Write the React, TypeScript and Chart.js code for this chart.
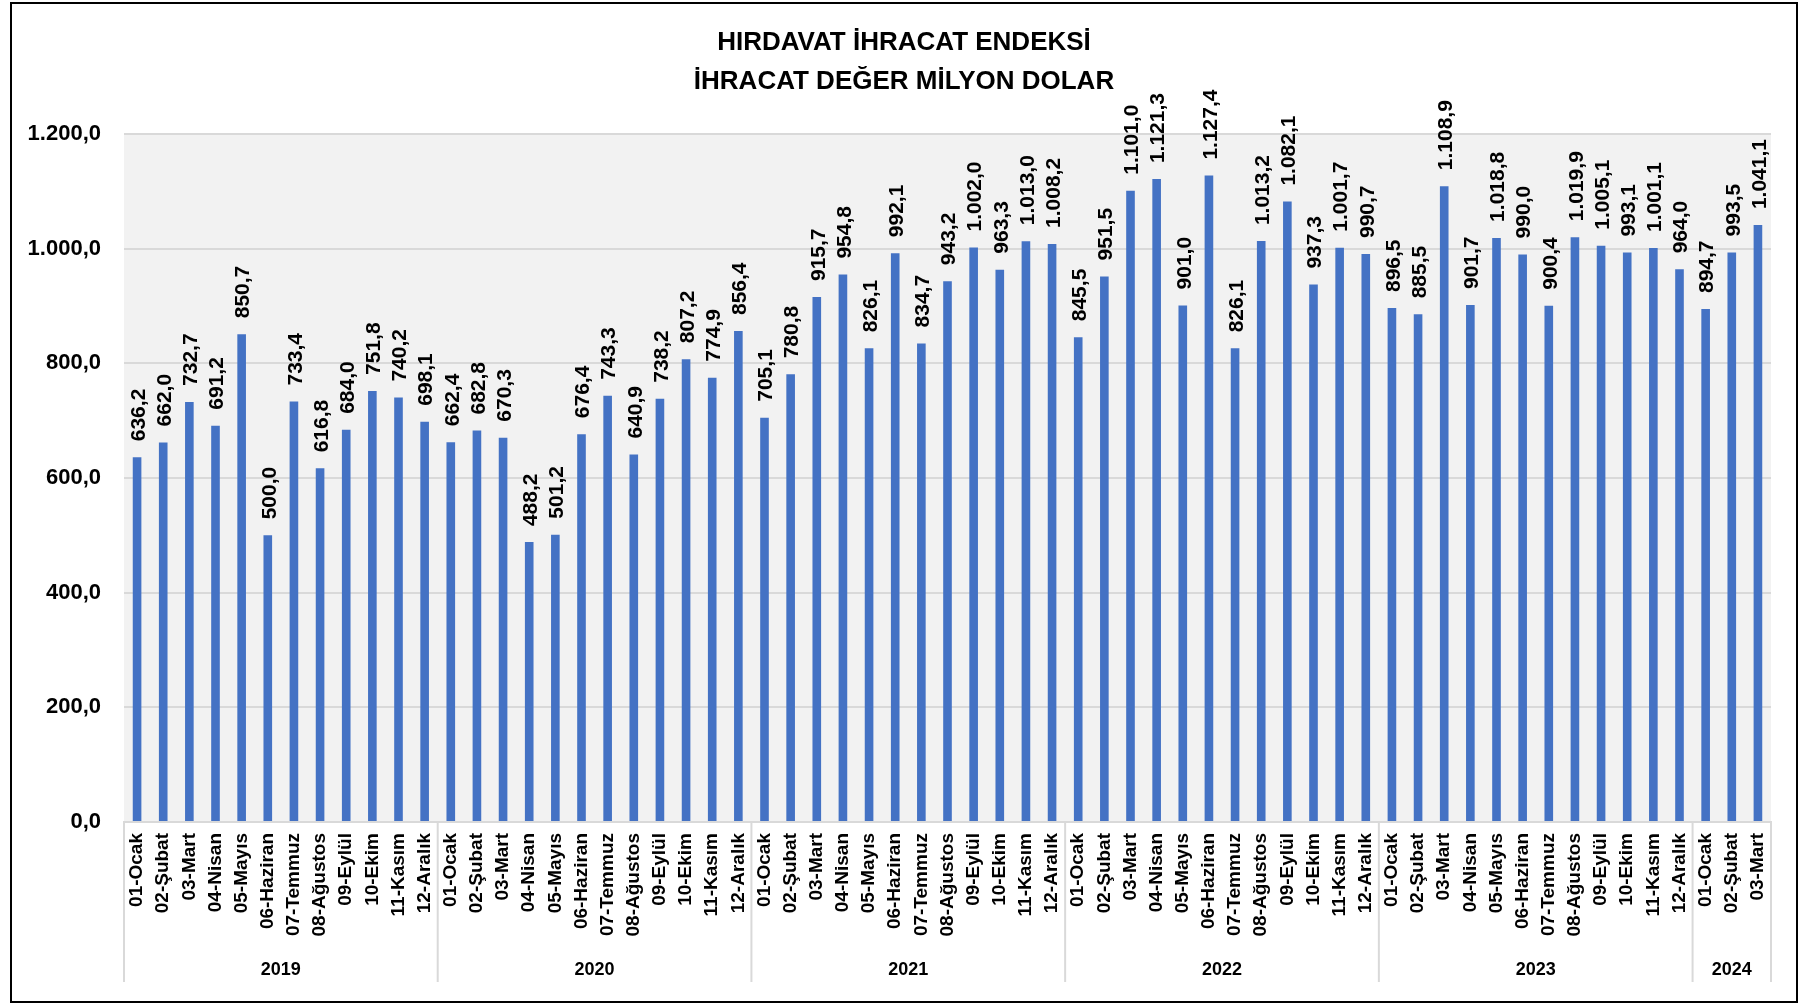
import React, { useEffect, useRef } from 'react';
import { Chart, registerables } from 'chart.js';

Chart.register(...registerables);

const titleLines = ['HIRDAVAT İHRACAT ENDEKSİ', 'İHRACAT DEĞER MİLYON DOLAR'];
const years = ['2019', '2020', '2021', '2022', '2023', '2024'];
const monthsPerYear = [12, 12, 12, 12, 12, 3];
const monthNames = ['01-Ocak', '02-Şubat', '03-Mart', '04-Nisan', '05-Mayıs', '06-Haziran', '07-Temmuz', '08-Ağustos', '09-Eylül', '10-Ekim', '11-Kasım', '12-Aralık'];

const values2019 = [636.2, 662.0, 732.7, 691.2, 850.7, 500.0, 733.4, 616.8, 684.0, 751.8, 740.2, 698.1];
const values2020 = [662.4, 682.8, 670.3, 488.2, 501.2, 676.4, 743.3, 640.9, 738.2, 807.2, 774.9, 856.4];
const values2021 = [705.1, 780.8, 915.7, 954.8, 826.1, 992.1, 834.7, 943.2, 1002.0, 963.3, 1013.0, 1008.2];
const values2022 = [845.5, 951.5, 1101.0, 1121.3, 901.0, 1127.4, 826.1, 1013.2, 1082.1, 937.3, 1001.7, 990.7];
const values2023 = [896.5, 885.5, 1108.9, 901.7, 1018.8, 990.0, 900.4, 1019.9, 1005.1, 993.1, 1001.1, 964.0];
const values2024 = [894.7, 993.5, 1041.1];

const yMin = 0;
const yMax = 1200;
const yStep = 200;

const FONT = '"Liberation Sans", Arial, sans-serif';
const BAR_COLOR = '#4472C4';
const GRID_COLOR = '#D9D9D9';

function fmt(v: number): string {
  const s = Math.abs(v).toFixed(1);
  const [ip, dp] = s.split('.');
  const withDots = ip.replace(/\B(?=(\d{3})+(?!\d))/g, '.');
  return (v < 0 ? '-' : '') + withDots + ',' + dp;
}

export default function App() {
  const canvasRef = useRef<HTMLCanvasElement | null>(null);

  useEffect(() => {
    const canvas = canvasRef.current;
    if (!canvas) return;

    const allValues = [...values2019, ...values2020, ...values2021, ...values2022, ...values2023, ...values2024];
    const labels: string[] = [];
    monthsPerYear.forEach((n) => {
      for (let i = 0; i < n; i++) labels.push(monthNames[i]);
    });

    const decorPlugin = {
      id: 'decor',
      beforeDraw(chart: any) {
        const { ctx, chartArea } = chart;
        ctx.save();
        ctx.fillStyle = '#FFFFFF';
        ctx.fillRect(0, 0, chart.width, chart.height);
        ctx.fillStyle = '#F2F2F2';
        ctx.fillRect(chartArea.left, chartArea.top, chartArea.right - chartArea.left, chartArea.bottom - chartArea.top);
        ctx.restore();
      },
      afterDraw(chart: any) {
        const { ctx, chartArea } = chart;
        const xScale = chart.scales.x;
        ctx.save();

        // Title
        ctx.fillStyle = '#000';
        ctx.font = `bold 26px ${FONT}`;
        ctx.textAlign = 'center';
        ctx.textBaseline = 'middle';
        ctx.fillText(titleLines[0], chart.width / 2, 43);
        ctx.fillText(titleLines[1], chart.width / 2, 82);

        // Data labels
        const meta = chart.getDatasetMeta(0);
        ctx.font = `bold 21px ${FONT}`;
        meta.data.forEach((bar: any, i: number) => {
          ctx.save();
          ctx.translate(bar.x + 2, bar.y - 16);
          ctx.rotate(-Math.PI / 2);
          ctx.textAlign = 'left';
          ctx.textBaseline = 'middle';
          ctx.fillText(fmt(allValues[i]), 0, 0);
          ctx.restore();
        });

        // Year group separators and labels
        const catW = (chartArea.right - chartArea.left) / labels.length;
        ctx.strokeStyle = GRID_COLOR;
        ctx.lineWidth = 2;
        let start = 0;
        const bounds: number[] = [chartArea.left];
        monthsPerYear.forEach((n) => {
          start += n;
          bounds.push(xScale.getPixelForValue(start - 1) + catW / 2);
        });
        bounds.forEach((bx) => {
          ctx.beginPath();
          ctx.moveTo(bx, chartArea.bottom);
          ctx.lineTo(bx, 982);
          ctx.stroke();
        });
        ctx.font = `bold 18px ${FONT}`;
        ctx.textAlign = 'center';
        ctx.textBaseline = 'middle';
        ctx.fillStyle = '#000';
        years.forEach((yr, i) => {
          ctx.fillText(yr, (bounds[i] + bounds[i + 1]) / 2, 970);
        });

        // Outer frame
        ctx.strokeStyle = '#000';
        ctx.lineWidth = 2;
        ctx.strokeRect(11, 3, 1786, 999);
        ctx.restore();
      },
    };

    const chart = new Chart(canvas, {
      type: 'bar',
      data: {
        labels,
        datasets: [
          {
            data: allValues,
            backgroundColor: BAR_COLOR,
            borderWidth: 0,
            barPercentage: 0.33,
            categoryPercentage: 1,
          },
        ],
      },
      options: {
        responsive: false,
        animation: false,
        devicePixelRatio: 1,
        layout: { padding: { top: 134, right: 37, left: 0, bottom: 0 } },
        plugins: {
          legend: { display: false },
          title: { display: false },
          tooltip: { enabled: false },
        },
        scales: {
          x: {
            grid: { display: false, drawTicks: false },
            border: { display: true, color: GRID_COLOR, width: 2 },
            ticks: {
              autoSkip: false,
              minRotation: 90,
              maxRotation: 90,
              padding: 11,
              color: '#000',
              font: { family: FONT, size: 19, weight: 'bold' },
            },
            afterFit(scale: any) {
              scale.height = 182;
            },
          },
          y: {
            min: yMin,
            max: yMax,
            grid: { color: GRID_COLOR, lineWidth: 2, drawTicks: false },
            border: { display: false },
            ticks: {
              stepSize: yStep,
              padding: 23,
              color: '#000',
              font: { family: FONT, size: 22, weight: 'bold' },
              callback: (v: any) => fmt(Number(v)),
            },
            afterFit(scale: any) {
              scale.width = 124;
            },
          },
        },
      },
      plugins: [decorPlugin],
    });

    return () => chart.destroy();
  }, []);

  return (
    <div style={{ position: 'absolute', left: 0, top: 0, width: 1808, height: 1004 }}>
      <canvas ref={canvasRef} width={1808} height={1004} style={{ display: 'block' }} />
    </div>
  );
}
